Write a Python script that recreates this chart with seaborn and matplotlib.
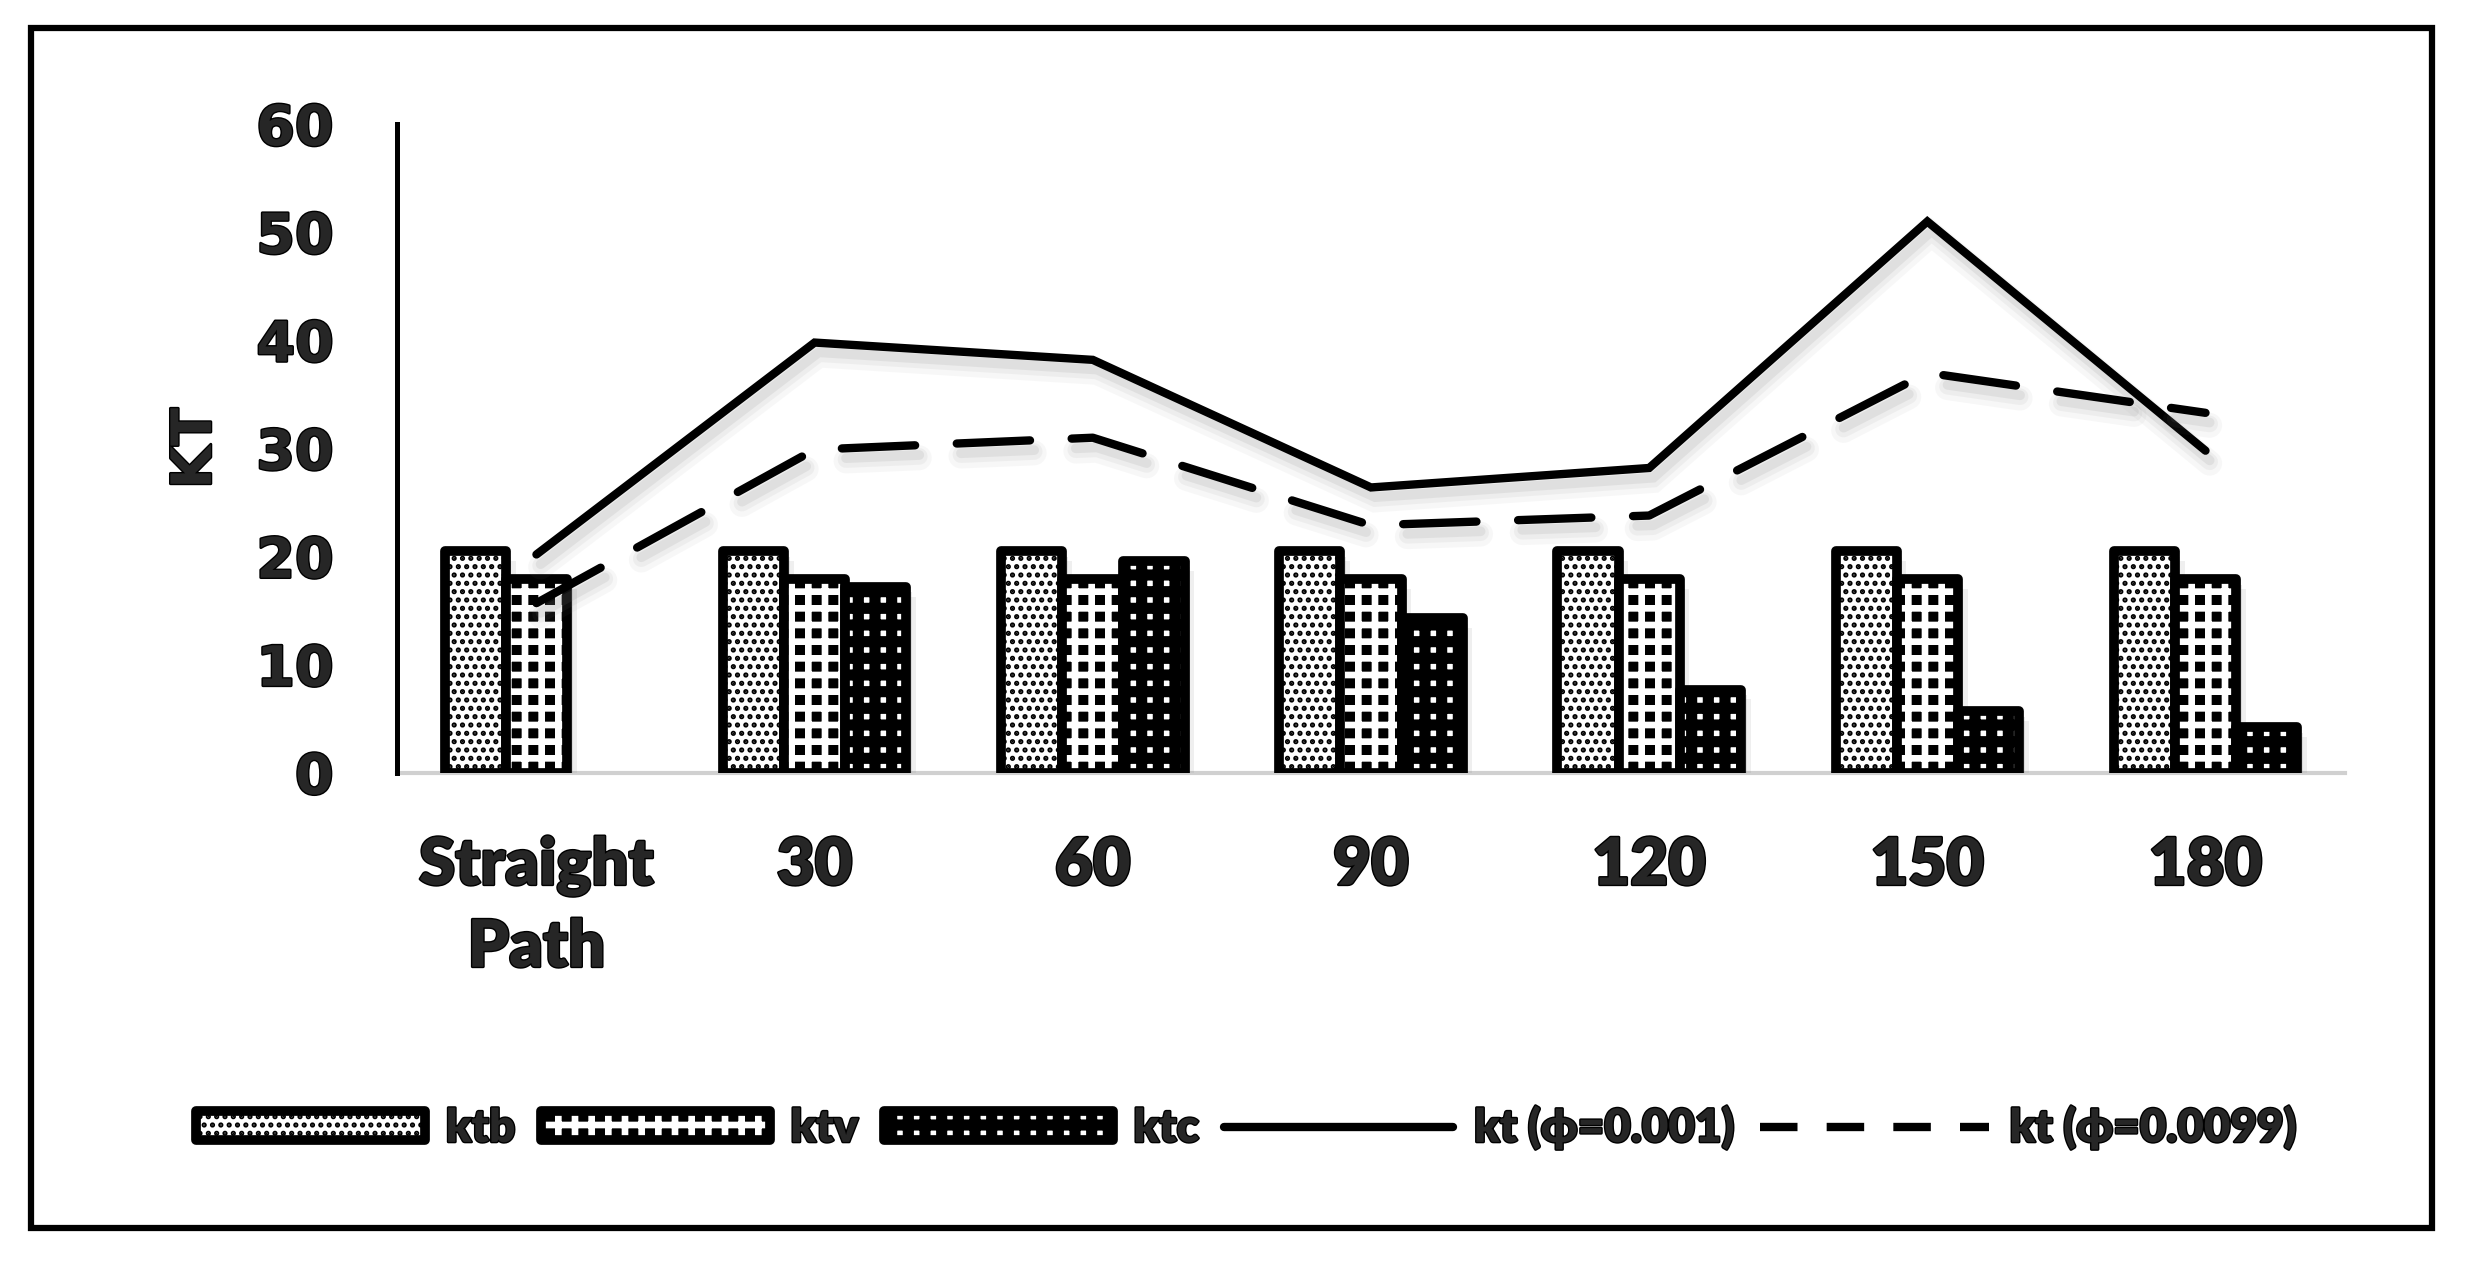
import numpy as np
import pandas as pd
import matplotlib
matplotlib.use("Agg")
import matplotlib.pyplot as plt
import matplotlib.patches as mpatches
import matplotlib.lines as mlines
import matplotlib.patheffects as pe
import seaborn as sns

# values
categories = ["Straight\nPath", "30", "60", "90", "120", "150", "180"]
series = ["ktb", "ktv", "ktc"]
ktb = [20.5, 20.5, 20.5, 20.5, 20.5, 20.5, 20.5]
ktv = [17.9, 17.9, 17.9, 17.9, 17.9, 17.9, 17.9]
ktc = [None, 17.2, 19.6, 14.3, 7.7, 5.7, 4.2]
kt_001 = [20.2, 39.8, 38.2, 26.4, 28.2, 51.0, 29.8]
kt_0099 = [15.7, 29.9, 31.0, 22.9, 23.8, 37.0, 33.3]
line_labels = ["kt (\u03d5=0.001)", "kt (\u03d5=0.0099)"]
yticks = [0, 10, 20, 30, 40, 50, 60]

# long table for seaborn (straight path has no ktc bar)
rows = []
for name, vals in zip(series, [ktb, ktv, ktc]):
    for cat, v in zip(categories, vals):
        if v is not None:
            rows.append({"cat": cat, "series": name, "value": v})
df = pd.DataFrame(rows)


class FlatShadow(pe.AbstractPathEffect):
    """grey offset copy of a patch, without its hatch"""

    def __init__(self, offset=(4, -4), alpha=0.2):
        super().__init__(offset)
        self.alpha = alpha

    def draw_path(self, renderer, gc, tpath, affine, rgbFace=None):
        gc0 = renderer.new_gc()
        gc0.copy_properties(gc)
        gc0.set_hatch(None)
        gc0.set_linewidth(0)
        gc0.set_alpha(self.alpha)
        renderer.draw_path(gc0, tpath, affine + self._offset_transform(renderer),
                           (0.5, 0.5, 0.5))
        gc0.restore()


class EdgeOnly(pe.AbstractPathEffect):
    """black outline drawn on top, no fill and no hatch"""

    def __init__(self, linewidth=6.5):
        super().__init__()
        self.linewidth = linewidth

    def draw_path(self, renderer, gc, tpath, affine, rgbFace=None):
        gc0 = renderer.new_gc()
        gc0.copy_properties(gc)
        gc0.set_hatch(None)
        gc0.set_linewidth(self.linewidth)
        gc0.set_foreground("black")
        gc0.set_joinstyle("round")
        renderer.draw_path(gc0, tpath, affine, None)
        gc0.restore()


sns.set_style("white")
plt.rcParams["font.family"] = ["Lato", "DejaVu Sans"]
plt.rcParams["font.weight"] = "bold"

# makes the text look heavier like the original
heavy = [pe.withStroke(linewidth=2, foreground="black")]

fig = plt.figure(figsize=(24.68, 12.67), dpi=100)
ax = fig.add_axes([0.161, 0.390, 0.789, 0.512])

sns.barplot(data=df, x="cat", y="value", hue="series", order=categories,
            hue_order=series, palette=["white", "white", "white"],
            width=0.66, errorbar=None, legend=False, ax=ax, zorder=2)

# ktb: small black dots, ktv: black squares (white grid on black),
# ktc: black with small white holes
hatches = {"ktb": "..", "ktv": "+", "ktc": "+"}
hatch_lw = {"ktb": 2.5, "ktv": 4.8, "ktc": 8}
face = {"ktb": "white", "ktv": "black", "ktc": "white"}
hcol = {"ktb": "black", "ktv": "white", "ktc": "black"}

bar_fx = [FlatShadow((7, -7), 0.12), FlatShadow((4, -4), 0.18),
          pe.Normal(), EdgeOnly(7)]
for cont, name in zip(ax.containers, series):
    for bar in cont:
        bar.set_facecolor(face[name])
        bar.set_edgecolor(hcol[name])
        bar.set_linewidth(0)
        bar.set_hatch(hatches[name])
        if hasattr(bar, "set_hatch_linewidth"):
            bar.set_hatch_linewidth(hatch_lw[name])
        bar.set_path_effects(bar_fx)

# soft shadow under the lines
line_fx = [pe.SimpleLineShadow(offset=(3, -9), shadow_color="gray", alpha=0.06, linewidth=18),
           pe.SimpleLineShadow(offset=(3, -8), shadow_color="gray", alpha=0.08, linewidth=12),
           pe.SimpleLineShadow(offset=(3, -7), shadow_color="gray", alpha=0.12, linewidth=7),
           pe.Normal()]

x = np.arange(len(categories))
ax.plot(x, kt_001, color="black", lw=6, solid_capstyle="round",
        solid_joinstyle="miter", zorder=4, path_effects=line_fx)
ax.plot(x, kt_0099, color="black", lw=6, dashes=(8.8, 5.0),
        dash_capstyle="round", zorder=4, path_effects=line_fx)

ax.set_xlim(-0.5, 6.5)
ax.set_ylim(0, 60)
ax.set_yticks(yticks)
ax.set_yticklabels([str(t) for t in yticks], family="DejaVu Sans",
                   fontweight="bold", fontsize=40, path_effects=heavy)
ax.set_xticks(x)
ax.set_xticklabels(categories, fontsize=47, fontweight="heavy",
                   linespacing=1.45, path_effects=heavy)
ax.tick_params(axis="both", length=0)
ax.tick_params(axis="y", pad=46)
ax.tick_params(axis="x", pad=46)
ax.set_xlabel("")
ax.set_ylabel("KT", fontsize=40, fontweight="bold", family="DejaVu Sans",
              labelpad=24, path_effects=heavy)

for s in ["top", "right"]:
    ax.spines[s].set_visible(False)
ax.spines["left"].set_color("black")
ax.spines["left"].set_linewidth(3.6)
ax.spines["bottom"].set_color("#d0d0d0")
ax.spines["bottom"].set_linewidth(3)
ax.spines["bottom"].set_zorder(1)

# legend built by hand so the hatches show
handles = []
for name in series:
    p = mpatches.Patch(facecolor=face[name], edgecolor=hcol[name], linewidth=0,
                       hatch=hatches[name], label=name)
    handles.append(p)
handles.append(mlines.Line2D([], [], color="black", lw=6, label=line_labels[0]))
handles.append(mlines.Line2D([], [], color="black", lw=6, dashes=(4.5, 3.5),
                             label=line_labels[1]))
leg = fig.legend(handles=handles, loc="center", bbox_to_anchor=(0.505, 0.11),
                 ncol=5, frameon=False, handlelength=5.0, handleheight=0.6,
                 columnspacing=0.55, handletextpad=0.45,
                 prop={"family": ["Lato", "DejaVu Sans"],
                       "weight": "heavy", "size": 33})
for t in leg.get_texts():
    t.set_path_effects(heavy)
for p, name in zip(leg.get_patches(), series):
    if hasattr(p, "set_hatch_linewidth"):
        p.set_hatch_linewidth(hatch_lw[name])
    p.set_path_effects([pe.Normal(), EdgeOnly(7)])

# outer frame
fig.patches.append(mpatches.Rectangle((0.0126, 0.0308), 0.9728, 0.9472,
                                      transform=fig.transFigure, fill=False,
                                      edgecolor="black", linewidth=4.5))

fig.savefig("out.png", dpi=100, facecolor="white")
